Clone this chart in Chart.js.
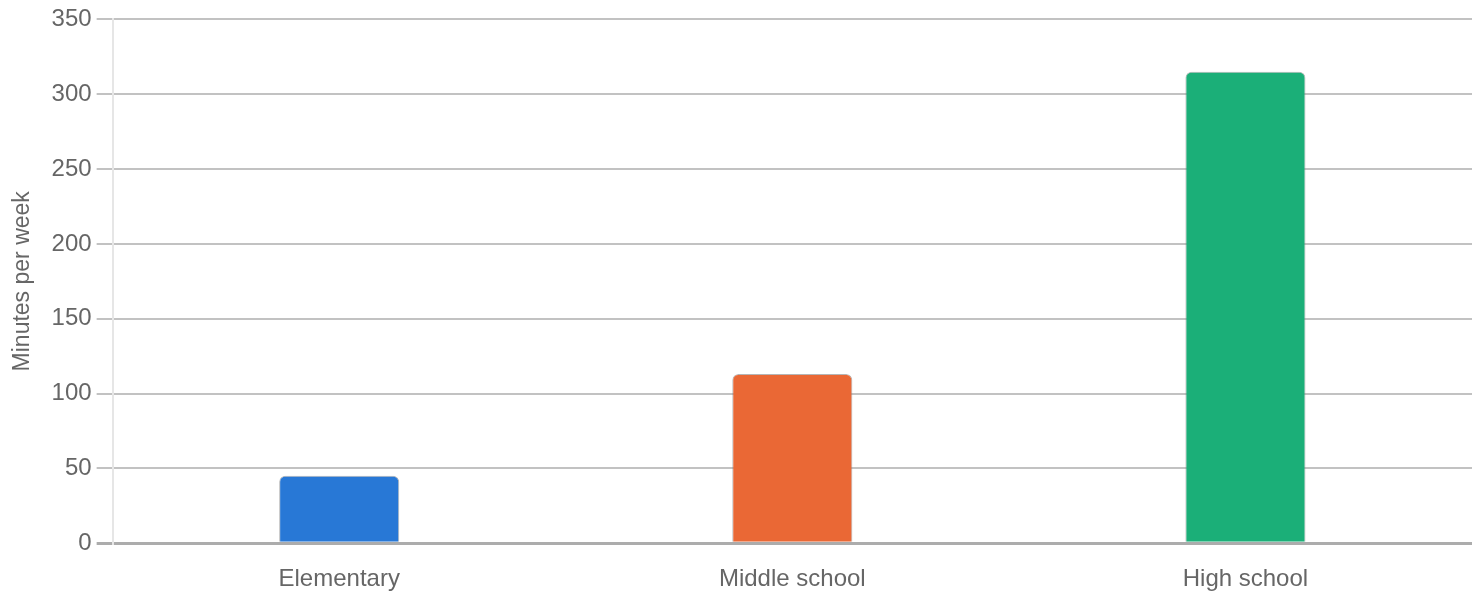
<!DOCTYPE html>
<html>
<head>
<meta charset="utf-8">
<script src="https://cdn.jsdelivr.net/npm/chart.js@4/dist/chart.umd.min.js"></script>
<style>
  html, body { margin: 0; padding: 0; background: #fff; }
  #wrap { width: 1472px; height: 600px; }
</style>
</head>
<body>
<div id="wrap"><canvas id="chart"></canvas></div>
<script>
// data
const levels = ['Elementary', 'Middle school', 'High school'];
const minutes = [45, 113, 315];
const barColors = ['#2878d6', '#ea6835', '#1baf78'];
const yTicks = [0, 50, 100, 150, 200, 250, 300, 350];

const font = "Arial, 'Liberation Sans', sans-serif";

new Chart(document.getElementById('chart').getContext('2d'), {
  type: 'bar',
  data: {
    labels: levels,
    datasets: [{
      data: minutes,
      backgroundColor: barColors,
      borderColor: 'rgba(120,120,120,0.55)',
      borderWidth: 1,
      borderRadius: 6,
      categoryPercentage: 1,
      barPercentage: 0.265
    }]
  },
  options: {
    responsive: true,
    maintainAspectRatio: false,
    animation: false,
    layout: { padding: { top: 11, right: 0, bottom: 0, left: 9 } },
    plugins: {
      legend: { display: false },
      tooltip: { enabled: false }
    },
    scales: {
      x: {
        grid: { display: false, tickLength: 16 },
        border: { display: false },
        ticks: { color: '#666', padding: 6, font: { family: font, size: 24 } }
      },
      y: {
        min: yTicks[0],
        max: yTicks[yTicks.length - 1],
        ticks: { stepSize: 50, color: '#666', padding: 5, font: { family: font, size: 24 } },
        grid: {
          color: ctx => ctx.tick && ctx.tick.value === 0 ? '#acacac' : '#c2c2c2',
          lineWidth: ctx => ctx.tick && ctx.tick.value === 0 ? 3 : 2,
          tickLength: 16
        },
        border: { display: true, color: '#e6e6e6', width: 2 },
        title: {
          display: true,
          text: 'Minutes per week',
          color: '#666',
          padding: { top: 0, bottom: 10 },
          font: { family: font, size: 23 }
        }
      }
    }
  }
});
</script>
</body>
</html>
